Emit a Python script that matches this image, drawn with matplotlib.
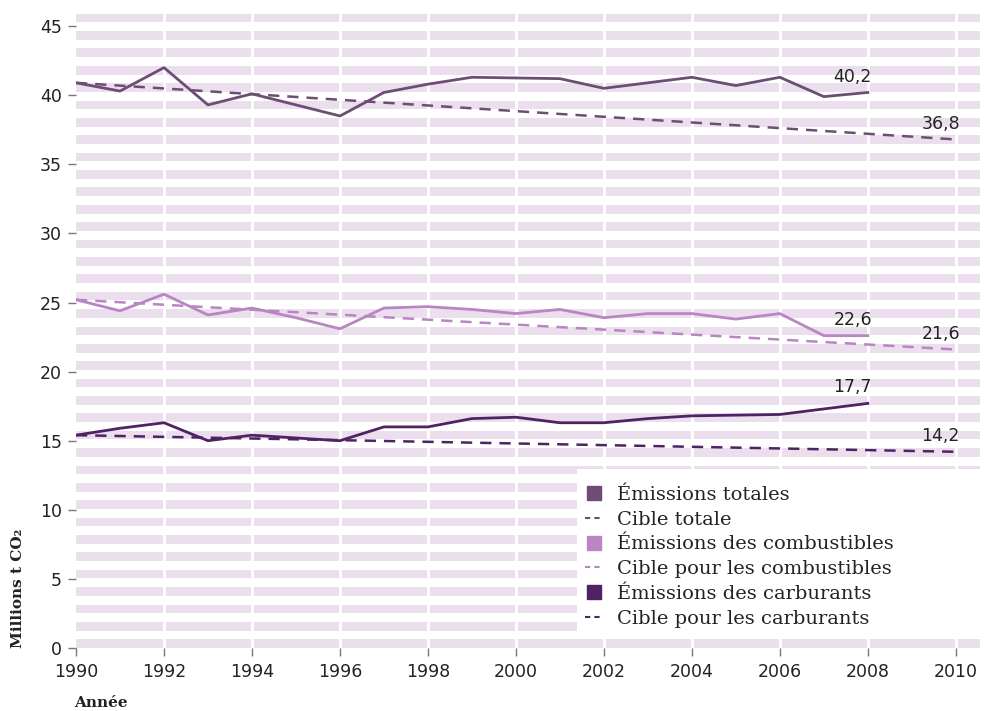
import numpy as np
import matplotlib
matplotlib.use("Agg")
import matplotlib.pyplot as plt
from matplotlib.lines import Line2D
from matplotlib.patches import Rectangle

### data ###

annees = list(range(1990, 2009))

em_totales = [40.9, 40.3, 42.0, 39.3, 40.1, 39.3, 38.5, 40.2, 40.8, 41.3, 41.25,
              41.2, 40.5, 40.9, 41.3, 40.7, 41.3, 39.9, 40.2]
em_combustibles = [25.2, 24.4, 25.6, 24.1, 24.6, 23.9, 23.1, 24.6, 24.7, 24.5, 24.2,
                   24.5, 23.9, 24.2, 24.2, 23.8, 24.2, 22.6, 22.6]
em_carburants = [15.4, 15.9, 16.3, 15.0, 15.4, 15.2, 15.0, 16.0, 16.0, 16.6, 16.7,
                 16.3, 16.3, 16.6, 16.8, 16.85, 16.9, 17.3, 17.7]

cible_annees = [1990, 2010]
cible_totale = [40.9, 36.8]
cible_combustibles = [25.2, 21.6]
cible_carburants = [15.4, 14.2]

labels_val = ["40,2", "36,8", "22,6", "21,6", "17,7", "14,2"]

c_tot = "#6e4d74"
c_comb = "#b985c2"
c_carb = "#4f2263"
c_stripe = "#ebdfee"

### figure ###

fig = plt.figure(figsize=(9.85, 7.11), dpi=100)
ax = fig.add_axes([76/985, 63/711, 904/985, 634.3/711])

ymax = 45.9
ax.set_xlim(1990, 2010.55)
ax.set_ylim(0, ymax)

# gestreifter Hintergrund
h = ymax/73
for k in range(0, 73, 2):
    ax.axhspan(k*h, (k+1)*h, color=c_stripe, lw=0, zorder=0)
for yr in range(1992, 2011, 2):
    ax.axvline(yr, color="white", lw=2, zorder=1)

ax.plot(annees, em_totales, color=c_tot, lw=2, zorder=3)
ax.plot(cible_annees, cible_totale, color=c_tot, lw=1.8, dashes=(4.5, 3.2), zorder=3)
ax.plot(annees, em_combustibles, color=c_comb, lw=2, zorder=3)
ax.plot(cible_annees, cible_combustibles, color=c_comb, lw=1.8, dashes=(4.5, 3.2), zorder=3)
ax.plot(annees, em_carburants, color=c_carb, lw=2, zorder=3)
ax.plot(cible_annees, cible_carburants, color=c_carb, lw=1.8, dashes=(4.5, 3.2), zorder=3)

pts = [(2008, em_totales[-1]), (2010, cible_totale[-1]),
       (2008, em_combustibles[-1]), (2010, cible_combustibles[-1]),
       (2008, em_carburants[-1]), (2010, cible_carburants[-1])]
for txt, (x, y) in zip(labels_val, pts):
    ax.annotate(txt, (x, y), xytext=(3, 5), textcoords="offset points",
                ha="right", va="bottom", fontsize=12.5, color="#222222", zorder=4)

# Legende
ax.add_patch(Rectangle((0.554, 0.02), 0.446, 0.262, transform=ax.transAxes,
                       facecolor="white", edgecolor="none", zorder=2))
handles = [
    Line2D([], [], ls="none", marker="s", ms=10, color=c_tot),
    Line2D([], [], color=c_tot, lw=1.5, dashes=(2.5, 2)),
    Line2D([], [], ls="none", marker="s", ms=10, color=c_comb),
    Line2D([], [], color=c_comb, lw=1.5, dashes=(2.5, 2)),
    Line2D([], [], ls="none", marker="s", ms=10, color=c_carb),
    Line2D([], [], color=c_carb, lw=1.5, dashes=(2.5, 2)),
]
noms = ["Émissions totales", "Cible totale", "Émissions des combustibles",
        "Cible pour les combustibles", "Émissions des carburants",
        "Cible pour les carburants"]
leg = ax.legend(handles, noms, loc="upper left", bbox_to_anchor=(0.555, 0.268),
                frameon=False, handlelength=0.9, handletextpad=0.7,
                labelspacing=0.35, borderaxespad=0,
                prop={"family": "DejaVu Serif", "size": 14})
for t in leg.get_texts():
    t.set_color("#222222")
leg.set_zorder(5)

ax.set_xticks(range(1990, 2011, 2))
ax.set_yticks(range(0, 46, 5))
ax.tick_params(axis="both", colors="#777777", labelcolor="#222222",
               labelsize=12.5, length=6, width=1)
ax.tick_params(axis="y", pad=4)
ax.tick_params(axis="x", pad=5)
for s in ax.spines.values():
    s.set_visible(False)

fig.text(18/985, 1-648/711, "Millions t CO₂", rotation=90, ha="center", va="bottom",
         fontsize=11, fontweight="bold", family="DejaVu Serif", color="#222222")
fig.text(74/985, 1-703/711, "Année", ha="left", va="center",
         fontsize=11, fontweight="bold", family="DejaVu Serif", color="#222222")

fig.savefig("out.png", dpi=100)
